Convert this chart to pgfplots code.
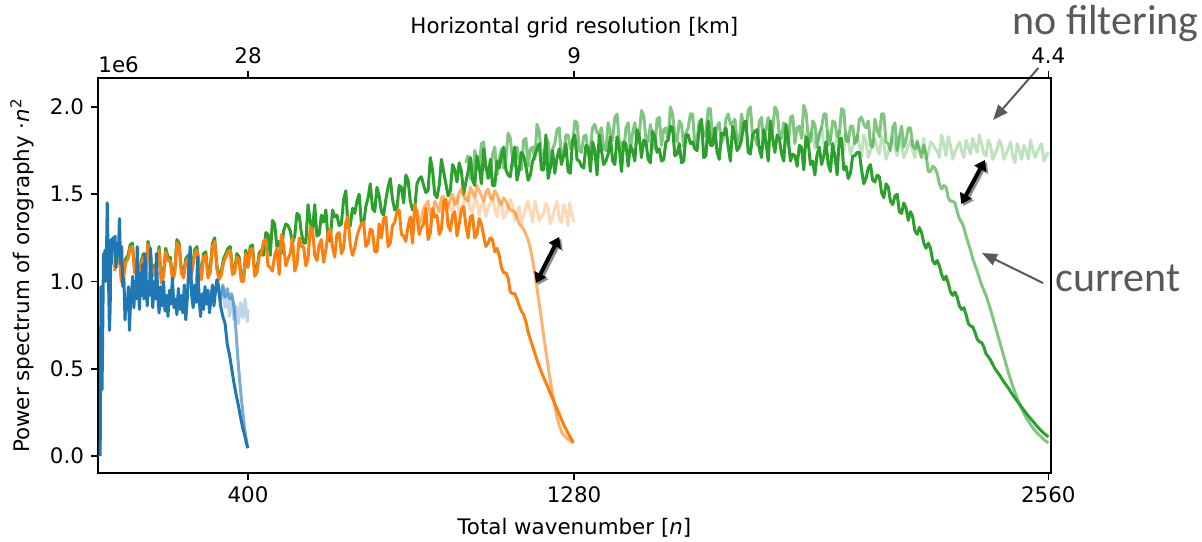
\documentclass[border=0pt]{standalone}
\usepackage{fontspec}
\setmainfont{DejaVu Sans}
\newfontfamily\calibri{Carlito}
\usepackage{pgfplots}
\pgfplotsset{compat=1.18}
\usetikzlibrary{arrows.meta}
\definecolor{tabblue}{HTML}{1F77B4}
\definecolor{taborange}{HTML}{FF7F0E}
\definecolor{tabgreen}{HTML}{2CA02C}
\definecolor{annot}{HTML}{595959}
\begin{document}
\begin{tikzpicture}[font=\fontsize{10.7}{12.8}\selectfont]
\pgfplotsset{
  base/.style={at={(0,0)}, anchor=south west, scale only axis,
    width=476.35pt, height=197.5pt,
    xmin=-4.9, xmax=2566.5, ymin=-0.0974, ymax=2.166,
    tick align=outside, major tick length=3.5pt,
    every tick/.style={black, line width=0.8pt},
    axis line style={line width=0.8pt},
    /pgf/number format/assume math mode=true,
    tick label style={font=\fontsize{10.7}{12.8}\selectfont},
    label style={font=\fontsize{10.7}{12.8}\selectfont},
  },
  sline/.style={line width=1.5pt, line join=round},
}
\begin{axis}[base, clip=false,
  xtick={400,1280,2560}, xticklabels={400,1280,2560},
  ytick={0,0.5,1,1.5,2}, yticklabels={0.0,0.5,1.0,1.5,2.0},
  xtick pos=bottom, ytick pos=left,
  xlabel={Total wavenumber [\textit{n}]},
  ylabel={Power spectrum of orography ·\textit{n}\textsuperscript{2}},
  xlabel style={at={(axis description cs:0.5,-0.1392)}, anchor=center},
  ylabel style={at={(axis description cs:-0.0798,0.5)}, anchor=center},
]
% green: no filtering
\addplot[sline, tabgreen, draw opacity=0.3] coordinates {(1900,1.86)(1906,1.80)(1912,1.78)(1918,1.85)(1924,1.84)(1930,1.76)(1936,1.80)(1942,1.83)(1948,1.88)(1954,1.79)(1960,1.76)(1966,1.86)(1972,1.83)(1978,1.74)(1984,1.79)(1990,1.82)(1996,1.86)(2002,1.80)(2008,1.74)(2014,1.85)(2020,1.81)(2026,1.73)(2032,1.77)(2038,1.81)(2044,1.84)(2050,1.78)(2056,1.72)(2062,1.84)(2068,1.80)(2074,1.71)(2080,1.75)(2086,1.79)(2092,1.82)(2098,1.76)(2104,1.73)(2110,1.83)(2116,1.79)(2122,1.70)(2128,1.74)(2134,1.78)(2140,1.83)(2146,1.77)(2152,1.72)(2158,1.82)(2164,1.78)(2170,1.71)(2176,1.74)(2182,1.78)(2188,1.81)(2194,1.75)(2200,1.71)(2206,1.81)(2212,1.77)(2218,1.74)(2224,1.82)(2230,1.70)(2236,1.73)(2242,1.80)(2248,1.79)(2254,1.76)(2260,1.75)(2266,1.71)(2272,1.84)(2278,1.79)(2284,1.72)(2290,1.83)(2296,1.78)(2302,1.70)(2308,1.74)(2314,1.77)(2320,1.80)(2326,1.75)(2332,1.71)(2338,1.81)(2344,1.77)(2350,1.73)(2356,1.82)(2362,1.78)(2368,1.74)(2374,1.84)(2380,1.79)(2386,1.73)(2392,1.72)(2398,1.81)(2404,1.78)(2410,1.70)(2416,1.73)(2422,1.76)(2428,1.81)(2434,1.78)(2440,1.70)(2446,1.73)(2452,1.76)(2458,1.80)(2464,1.72)(2470,1.68)(2476,1.79)(2482,1.75)(2488,1.70)(2494,1.78)(2500,1.75)(2506,1.70)(2512,1.81)(2518,1.76)(2524,1.71)(2530,1.74)(2536,1.77)(2542,1.79)(2548,1.69)(2554,1.72)(2560,1.74)};
% green: current
\addplot[sline, tabgreen, draw opacity=0.6] coordinates {(988,1.68)(994,1.72)(1000,1.59)(1006,1.59)(1012,1.75)(1018,1.69)(1024,1.65)(1030,1.79)(1036,1.80)(1042,1.64)(1048,1.63)(1054,1.60)(1060,1.73)(1066,1.77)(1072,1.61)(1078,1.70)(1084,1.76)(1090,1.65)(1096,1.70)(1102,1.85)(1108,1.82)(1114,1.69)(1120,1.66)(1126,1.77)(1132,1.70)(1138,1.64)(1144,1.81)(1150,1.82)(1156,1.66)(1162,1.76)(1168,1.77)(1174,1.70)(1180,1.90)(1186,1.86)(1192,1.72)(1198,1.70)(1204,1.82)(1210,1.80)(1216,1.68)(1222,1.76)(1228,1.79)(1234,1.87)(1240,1.88)(1246,1.70)(1252,1.73)(1258,1.84)(1264,1.84)(1270,1.76)(1276,1.78)(1282,1.92)(1288,1.91)(1294,1.75)(1300,1.74)(1306,1.83)(1312,1.84)(1318,1.73)(1324,1.77)(1330,1.88)(1336,1.90)(1342,1.85)(1348,1.85)(1354,1.88)(1360,1.76)(1366,1.75)(1372,1.91)(1378,1.85)(1384,1.81)(1390,1.94)(1396,1.96)(1402,1.80)(1408,1.79)(1414,1.75)(1420,1.88)(1426,1.91)(1432,1.76)(1438,1.85)(1444,1.91)(1450,1.79)(1456,1.84)(1462,1.98)(1468,1.95)(1474,1.82)(1480,1.80)(1486,1.90)(1492,1.83)(1498,1.76)(1504,1.93)(1510,1.94)(1516,1.78)(1522,1.87)(1528,1.88)(1534,1.81)(1540,2.00)(1546,1.96)(1552,1.83)(1558,1.80)(1564,1.92)(1570,1.90)(1576,1.77)(1582,1.85)(1588,1.88)(1594,1.96)(1600,1.96)(1606,1.78)(1612,1.81)(1618,1.92)(1624,1.91)(1630,1.83)(1636,1.85)(1642,1.99)(1648,1.99)(1654,1.81)(1660,1.81)(1666,1.89)(1672,1.91)(1678,1.79)(1684,1.83)(1690,1.93)(1696,1.96)(1702,1.90)(1708,1.91)(1714,1.93)(1720,1.81)(1726,1.79)(1732,1.96)(1738,1.89)(1744,1.86)(1750,1.98)(1756,2.00)(1762,1.83)(1768,1.83)(1774,1.78)(1780,1.92)(1786,1.94)(1792,1.79)(1798,1.87)(1804,1.94)(1810,1.81)(1816,1.87)(1822,2.00)(1828,1.98)(1834,1.84)(1840,1.82)(1846,1.91)(1852,1.85)(1858,1.77)(1864,1.94)(1870,1.95)(1876,1.79)(1882,1.88)(1888,1.89)(1894,1.82)(1900,2.01)(1906,1.97)(1912,1.83)(1918,1.80)(1924,1.92)(1930,1.90)(1936,1.77)(1942,1.85)(1948,1.88)(1954,1.96)(1960,1.96)(1966,1.78)(1972,1.81)(1978,1.92)(1984,1.91)(1990,1.83)(1996,1.85)(2002,1.99)(2008,1.98)(2014,1.81)(2020,1.80)(2026,1.89)(2032,1.89)(2038,1.79)(2044,1.81)(2050,1.93)(2056,1.94)(2062,1.90)(2068,1.88)(2074,1.92)(2080,1.78)(2086,1.77)(2092,1.93)(2098,1.87)(2104,1.83)(2110,1.96)(2116,1.96)(2122,1.80)(2128,1.79)(2134,1.75)(2140,1.88)(2146,1.91)(2152,1.75)(2158,1.83)(2164,1.89)(2170,1.77)(2176,1.81)(2182,1.88)(2188,1.88)(2194,1.78)(2200,1.76)(2206,1.80)(2212,1.75)(2218,1.71)(2224,1.78)(2230,1.73)(2236,1.63)(2242,1.63)(2248,1.66)(2254,1.65)(2260,1.62)(2266,1.56)(2272,1.53)(2278,1.55)(2284,1.54)(2290,1.48)(2296,1.46)(2302,1.46)(2308,1.45)(2314,1.40)(2320,1.36)(2326,1.34)(2332,1.31)(2338,1.26)(2344,1.22)(2350,1.18)(2356,1.13)(2368,1.06)(2380,0.98)(2392,0.92)(2404,0.84)(2416,0.75)(2428,0.66)(2440,0.57)(2452,0.48)(2464,0.40)(2476,0.33)(2488,0.27)(2500,0.22)(2512,0.18)(2524,0.145)(2536,0.12)(2548,0.095)(2560,0.075)};
% green: new
\addplot[sline, tabgreen] coordinates {(40,1.08)(46,1.18)(52,1.19)(58,1.02)(64,1.04)(70,1.13)(76,1.15)(82,1.21)(88,1.22)(94,1.07)(100,1.06)(106,1.03)(112,1.12)(118,1.16)(124,1.01)(130,1.23)(136,1.17)(142,1.05)(148,1.09)(154,1.11)(160,1.20)(166,1.01)(172,1.05)(178,1.19)(184,1.14)(190,1.14)(196,1.03)(202,1.06)(208,1.24)(214,1.22)(220,1.07)(226,1.04)(232,1.13)(238,1.15)(244,1.02)(250,1.09)(256,1.18)(262,1.20)(268,1.10)(274,1.03)(280,1.16)(286,1.17)(292,1.04)(298,1.07)(304,1.22)(310,1.25)(316,1.09)(322,1.03)(328,1.06)(334,1.13)(340,1.16)(346,1.19)(352,1.20)(358,1.06)(364,1.07)(370,1.16)(376,1.14)(382,1.02)(388,1.02)(394,1.18)(400,1.10)(406,1.20)(412,1.21)(418,1.05)(424,1.07)(430,1.16)(436,1.18)(442,1.15)(448,1.28)(454,1.27)(460,1.15)(466,1.35)(472,1.33)(478,1.20)(484,1.23)(490,1.16)(496,1.29)(502,1.33)(508,1.32)(514,1.29)(520,1.22)(526,1.26)(532,1.39)(538,1.38)(544,1.28)(550,1.22)(556,1.22)(562,1.44)(568,1.34)(574,1.29)(580,1.44)(586,1.26)(592,1.27)(598,1.38)(604,1.34)(610,1.41)(616,1.25)(622,1.23)(628,1.41)(634,1.37)(640,1.38)(646,1.32)(652,1.33)(658,1.47)(664,1.52)(670,1.31)(676,1.32)(682,1.42)(688,1.39)(694,1.46)(700,1.50)(706,1.33)(712,1.33)(718,1.43)(724,1.48)(730,1.56)(736,1.42)(742,1.40)(748,1.54)(754,1.49)(760,1.40)(766,1.38)(772,1.47)(778,1.54)(784,1.59)(790,1.47)(796,1.41)(802,1.42)(808,1.55)(814,1.54)(820,1.45)(826,1.61)(832,1.58)(838,1.46)(844,1.41)(850,1.42)(856,1.56)(862,1.59)(868,1.60)(874,1.55)(880,1.51)(886,1.52)(892,1.71)(898,1.64)(904,1.50)(910,1.48)(916,1.55)(922,1.70)(928,1.63)(934,1.56)(940,1.49)(946,1.52)(952,1.67)(958,1.64)(964,1.57)(970,1.68)(976,1.63)(982,1.50)(988,1.57)(994,1.63)(1000,1.71)(1006,1.58)(1012,1.55)(1018,1.72)(1024,1.65)(1030,1.56)(1036,1.76)(1042,1.66)(1048,1.59)(1054,1.70)(1060,1.55)(1066,1.55)(1072,1.69)(1078,1.65)(1084,1.72)(1090,1.77)(1096,1.64)(1102,1.61)(1108,1.60)(1114,1.70)(1120,1.77)(1126,1.58)(1132,1.64)(1138,1.74)(1144,1.72)(1150,1.66)(1156,1.58)(1162,1.61)(1168,1.69)(1174,1.72)(1180,1.76)(1186,1.79)(1192,1.64)(1198,1.64)(1204,1.84)(1210,1.59)(1216,1.65)(1222,1.75)(1228,1.62)(1234,1.71)(1240,1.76)(1246,1.67)(1252,1.72)(1258,1.79)(1264,1.63)(1270,1.62)(1276,1.81)(1282,1.84)(1288,1.70)(1294,1.69)(1300,1.66)(1306,1.65)(1312,1.78)(1318,1.77)(1324,1.63)(1330,1.80)(1336,1.75)(1342,1.61)(1348,1.84)(1354,1.75)(1360,1.67)(1366,1.69)(1372,1.73)(1378,1.83)(1384,1.69)(1390,1.67)(1396,1.83)(1402,1.77)(1408,1.63)(1414,1.80)(1420,1.79)(1426,1.66)(1432,1.78)(1438,1.75)(1444,1.69)(1450,1.87)(1456,1.83)(1462,1.71)(1468,1.81)(1474,1.80)(1480,1.70)(1486,1.68)(1492,1.86)(1498,1.83)(1504,1.74)(1510,1.76)(1516,1.69)(1522,1.70)(1528,1.80)(1534,1.81)(1540,1.89)(1546,1.88)(1552,1.72)(1558,1.73)(1564,1.79)(1570,1.68)(1576,1.69)(1582,1.84)(1588,1.84)(1594,1.79)(1600,1.80)(1606,1.76)(1612,1.75)(1618,1.88)(1624,1.93)(1630,1.71)(1636,1.72)(1642,1.92)(1648,1.78)(1654,1.78)(1660,1.88)(1666,1.74)(1672,1.70)(1678,1.85)(1684,1.84)(1690,1.88)(1696,1.77)(1702,1.69)(1708,1.89)(1714,1.83)(1720,1.75)(1726,1.77)(1732,1.81)(1738,1.91)(1744,1.92)(1750,1.74)(1756,1.73)(1762,1.84)(1768,1.86)(1774,1.87)(1780,1.76)(1786,1.71)(1792,1.87)(1798,1.80)(1804,1.69)(1810,1.92)(1816,1.82)(1822,1.74)(1828,1.84)(1834,1.82)(1840,1.73)(1846,1.69)(1852,1.90)(1858,1.82)(1864,1.69)(1870,1.73)(1876,1.72)(1882,1.66)(1888,1.78)(1894,1.77)(1900,1.64)(1906,1.83)(1912,1.80)(1918,1.67)(1924,1.69)(1930,1.61)(1936,1.73)(1942,1.77)(1948,1.67)(1954,1.72)(1960,1.80)(1966,1.67)(1972,1.63)(1978,1.79)(1984,1.72)(1990,1.61)(1996,1.82)(2002,1.82)(2008,1.64)(2014,1.66)(2020,1.59)(2026,1.62)(2032,1.72)(2038,1.72)(2044,1.74)(2050,1.74)(2056,1.64)(2062,1.56)(2068,1.59)(2074,1.65)(2080,1.67)(2086,1.58)(2092,1.57)(2098,1.61)(2104,1.60)(2110,1.51)(2116,1.48)(2122,1.56)(2128,1.54)(2134,1.46)(2140,1.44)(2146,1.49)(2152,1.50)(2158,1.40)(2164,1.39)(2170,1.45)(2176,1.42)(2182,1.35)(2188,1.40)(2194,1.37)(2200,1.29)(2206,1.27)(2212,1.31)(2218,1.28)(2224,1.22)(2230,1.19)(2236,1.22)(2242,1.19)(2248,1.12)(2254,1.10)(2260,1.12)(2266,1.09)(2272,1.04)(2278,1.01)(2284,1.03)(2290,0.99)(2296,0.94)(2302,0.92)(2308,0.94)(2314,0.91)(2320,0.86)(2326,0.84)(2332,0.85)(2338,0.81)(2344,0.76)(2350,0.745)(2356,0.74)(2362,0.71)(2368,0.67)(2374,0.655)(2380,0.65)(2386,0.625)(2392,0.585)(2398,0.57)(2404,0.55)(2416,0.50)(2428,0.465)(2440,0.425)(2452,0.39)(2464,0.35)(2476,0.315)(2488,0.28)(2500,0.245)(2512,0.215)(2524,0.185)(2536,0.155)(2548,0.13)(2560,0.11)};
% orange: no filtering
\addplot[sline, taborange, draw opacity=0.3] coordinates {(940,1.46)(946,1.41)(952,1.40)(958,1.47)(964,1.49)(970,1.39)(976,1.43)(982,1.45)(988,1.51)(994,1.48)(1000,1.41)(1006,1.40)(1012,1.47)(1018,1.46)(1024,1.38)(1030,1.43)(1036,1.46)(1042,1.37)(1048,1.42)(1054,1.45)(1060,1.50)(1066,1.41)(1072,1.37)(1078,1.47)(1084,1.44)(1090,1.36)(1096,1.39)(1102,1.42)(1108,1.47)(1114,1.44)(1120,1.35)(1126,1.38)(1132,1.43)(1138,1.33)(1144,1.38)(1150,1.43)(1156,1.46)(1162,1.40)(1168,1.34)(1174,1.46)(1180,1.41)(1186,1.35)(1192,1.37)(1198,1.39)(1204,1.45)(1210,1.42)(1216,1.33)(1222,1.37)(1228,1.42)(1234,1.46)(1240,1.36)(1246,1.34)(1252,1.44)(1258,1.40)(1264,1.32)(1268,1.45)(1272,1.40)(1276,1.37)(1280,1.34)};
% orange: current
\addplot[sline, taborange, draw opacity=0.6] coordinates {(844,1.35)(850,1.39)(856,1.41)(862,1.33)(868,1.36)(874,1.42)(880,1.44)(886,1.46)(892,1.38)(898,1.37)(904,1.46)(910,1.43)(916,1.40)(922,1.48)(928,1.49)(934,1.41)(940,1.43)(946,1.47)(952,1.50)(958,1.44)(964,1.45)(970,1.51)(976,1.53)(982,1.49)(988,1.47)(994,1.46)(1000,1.54)(1006,1.51)(1012,1.48)(1018,1.55)(1024,1.52)(1030,1.49)(1036,1.46)(1042,1.51)(1048,1.53)(1054,1.48)(1060,1.47)(1066,1.52)(1072,1.50)(1078,1.46)(1084,1.44)(1090,1.48)(1096,1.46)(1102,1.43)(1108,1.41)(1120,1.40)(1132,1.33)(1144,1.30)(1156,1.24)(1164,1.17)(1170,1.10)(1176,1.02)(1182,0.93)(1188,0.84)(1194,0.75)(1200,0.66)(1206,0.57)(1213,0.47)(1220,0.38)(1227,0.30)(1234,0.22)(1241,0.17)(1248,0.13)(1256,0.11)(1264,0.095)(1272,0.085)(1278,0.075)};
% orange: new
\addplot[sline, taborange] coordinates {(40,1.06)(46,1.16)(52,1.17)(58,1.00)(64,1.02)(70,1.11)(76,1.13)(82,1.19)(88,1.20)(94,1.05)(100,1.04)(106,1.01)(112,1.10)(118,1.14)(124,0.99)(130,1.21)(136,1.15)(142,1.03)(148,1.07)(154,1.09)(160,1.18)(166,0.99)(172,1.03)(178,1.17)(184,1.12)(190,1.12)(196,1.01)(202,1.04)(208,1.22)(214,1.20)(220,1.05)(226,1.02)(232,1.11)(238,1.13)(244,1.00)(250,1.07)(256,1.16)(262,1.18)(268,1.08)(274,1.01)(280,1.14)(286,1.15)(292,1.02)(298,1.05)(304,1.20)(310,1.23)(316,1.07)(322,1.01)(328,1.04)(334,1.11)(340,1.14)(346,1.17)(352,1.18)(358,1.04)(364,1.05)(370,1.14)(376,1.12)(382,1.00)(388,1.00)(394,1.16)(400,1.08)(406,1.18)(412,1.19)(418,1.03)(424,1.05)(430,1.14)(436,1.16)(442,1.23)(448,1.24)(454,1.09)(460,1.08)(466,1.06)(472,1.15)(478,1.19)(484,1.04)(490,1.27)(496,1.21)(502,1.09)(508,1.13)(514,1.16)(520,1.25)(526,1.06)(532,1.10)(538,1.25)(544,1.20)(550,1.20)(556,1.09)(562,1.13)(568,1.31)(574,1.30)(580,1.15)(586,1.12)(592,1.21)(598,1.24)(604,1.11)(610,1.18)(616,1.28)(622,1.30)(628,1.20)(634,1.14)(640,1.27)(646,1.28)(652,1.16)(658,1.19)(664,1.34)(670,1.37)(676,1.21)(682,1.15)(688,1.19)(694,1.26)(700,1.30)(706,1.33)(712,1.34)(718,1.20)(724,1.22)(730,1.30)(736,1.29)(742,1.17)(748,1.17)(754,1.33)(760,1.25)(766,1.36)(772,1.37)(778,1.20)(784,1.22)(790,1.32)(796,1.34)(802,1.40)(808,1.41)(814,1.27)(820,1.26)(826,1.23)(832,1.32)(838,1.37)(844,1.22)(850,1.44)(856,1.38)(862,1.27)(868,1.31)(874,1.33)(880,1.42)(886,1.24)(892,1.28)(898,1.42)(904,1.37)(910,1.38)(916,1.27)(922,1.30)(928,1.46)(934,1.47)(940,1.32)(946,1.29)(952,1.38)(958,1.40)(964,1.26)(970,1.33)(976,1.41)(982,1.43)(988,1.32)(994,1.25)(1000,1.37)(1006,1.38)(1012,1.25)(1018,1.27)(1024,1.36)(1030,1.33)(1036,1.26)(1042,1.20)(1048,1.22)(1054,1.25)(1060,1.24)(1066,1.17)(1072,1.19)(1078,1.15)(1084,1.08)(1090,1.05)(1096,1.05)(1102,1.02)(1108,0.94)(1114,0.93)(1120,0.93)(1126,0.90)(1132,0.86)(1138,0.83)(1144,0.81)(1150,0.77)(1156,0.71)(1162,0.67)(1168,0.63)(1180,0.55)(1192,0.48)(1204,0.42)(1216,0.36)(1228,0.30)(1240,0.24)(1252,0.18)(1264,0.13)(1272,0.10)(1278,0.075)};
% blue: no filtering
\addplot[sline, tabblue, draw opacity=0.3] coordinates {(320,0.95)(326,0.88)(332,0.97)(338,0.85)(344,0.93)(350,0.80)(356,0.91)(362,0.78)(368,0.86)(374,0.76)(380,0.88)(386,0.79)(392,0.90)(398,0.77)(400,0.84)};
% blue: current
\addplot[sline, tabblue, draw opacity=0.6] coordinates {(320,0.96)(326,0.90)(332,0.98)(338,0.91)(344,0.96)(350,0.90)(356,0.93)(362,0.86)(366,0.76)(370,0.64)(374,0.52)(378,0.42)(382,0.33)(386,0.25)(390,0.17)(394,0.11)(398,0.065)};
% blue: new
\addplot[sline, tabblue] coordinates {(1,0.0)(2,0.5)(3,0.97)(5,0.93)(6,0.38)(8,0.75)(10,1.16)(12,1.05)(14,1.18)(16,1.0)(18,1.15)(20,1.45)(22,1.2)(24,0.95)(26,0.72)(28,0.85)(30,1.24)(32,1.1)(35,1.25)(38,1.18)(41,1.26)(44,1.08)(47,1.22)(50,1.15)(53,1.36)(56,1.1)(59,1.2)(62,0.97)(65,1.02)(68,0.78)(71,0.9)(74,0.84)(77,0.97)(80,0.72)(83,0.88)(86,0.95)(89,1.03)(92,0.85)(95,1.0)(98,0.9)(101,1.2)(104,0.97)(107,0.84)(110,1.05)(113,0.92)(116,1.1)(119,0.9)(122,1.16)(125,0.96)(128,0.86)(131,1.0)(134,0.92)(137,1.19)(140,0.95)(143,0.85)(146,1.0)(150,0.9)(153,1.16)(156,0.93)(160,0.82)(164,0.97)(168,0.86)(172,1.0)(176,0.83)(180,0.92)(184,0.8)(188,0.95)(192,0.87)(196,1.02)(200,0.85)(204,0.9)(208,0.81)(212,0.96)(216,0.84)(220,0.92)(224,0.82)(228,0.98)(232,0.78)(236,0.9)(240,1.08)(244,1.2)(248,0.92)(252,0.85)(256,0.98)(260,0.88)(264,1.14)(268,0.9)(272,0.8)(276,0.93)(280,0.84)(284,0.97)(288,0.87)(292,0.95)(296,0.82)(300,0.9)(304,0.98)(308,0.86)(312,0.94)(316,1.01)(320,0.98)(326,0.86)(332,0.80)(338,0.76)(344,0.64)(350,0.58)(356,0.50)(362,0.42)(368,0.35)(374,0.29)(380,0.22)(386,0.16)(392,0.11)(396,0.07)(400,0.045)};
% annotations
\node[anchor=base west, inner sep=0pt] at (axis description cs:0,1.0127) {1e6};
\node[anchor=base west, inner sep=0pt, text=annot, font=\calibri\fontsize{21}{25}\selectfont] at (axis cs:2462,2.413) {no filtering};
\node[anchor=base west, inner sep=0pt, text=annot, font=\calibri\fontsize{21}{25}\selectfont] at (axis cs:2578,0.94) {current};
\draw[annot, line width=1pt, -{Triangle[length=7.5pt,width=6pt]}] (axis cs:2533,2.223) -- (axis cs:2411,1.926);
\draw[annot, line width=1pt, -{Triangle[length=7.5pt,width=6pt]}] (axis cs:2546,0.991) -- (axis cs:2381,1.163);
\draw[black!45, line width=2pt, {Triangle[length=5pt,width=6.5pt]}-{Triangle[length=5pt,width=6.5pt]}] ([shift={(1pt,-1pt)}]axis cs:1177,0.991) -- ([shift={(1pt,-1pt)}]axis cs:1240,1.255);
\draw[black, line width=2pt, {Triangle[length=5pt,width=6.5pt]}-{Triangle[length=5pt,width=6.5pt]}] (axis cs:1177,0.991) -- (axis cs:1240,1.255);
\draw[black!45, line width=2pt, {Triangle[length=5pt,width=6.5pt]}-{Triangle[length=5pt,width=6.5pt]}] ([shift={(1pt,-1pt)}]axis cs:2325,1.444) -- ([shift={(1pt,-1pt)}]axis cs:2389,1.696);
\draw[black, line width=2pt, {Triangle[length=5pt,width=6.5pt]}-{Triangle[length=5pt,width=6.5pt]}] (axis cs:2325,1.444) -- (axis cs:2389,1.696);
\end{axis}
\begin{axis}[base, hide y axis, xtick pos=top, xticklabel pos=top,
  xtick={400,1280,2560}, xticklabels={28,9,4.4},
  xlabel={Horizontal grid resolution [km]},
  xlabel style={at={(axis description cs:0.5,1.1266)}, anchor=center},
]
\addplot[draw=none] coordinates {(0,0)};
\end{axis}
\pgfresetboundingbox
\path[use as bounding box] (-49pt,-34pt) rectangle (552pt,236.5pt);
\end{tikzpicture}
\end{document}
